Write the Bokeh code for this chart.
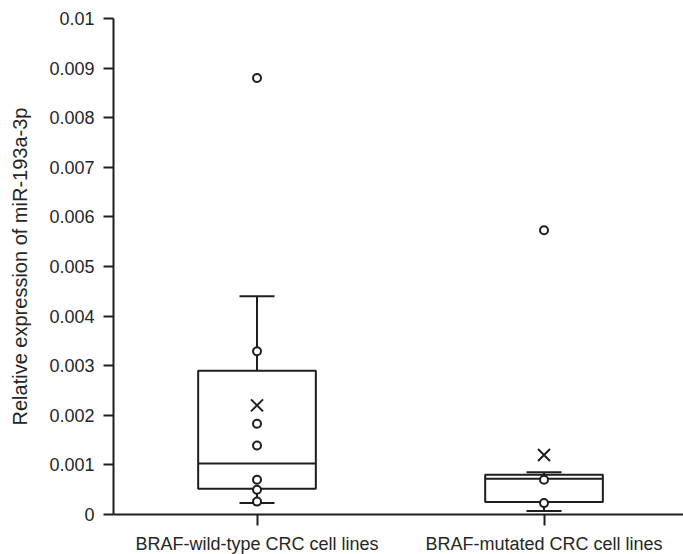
from bokeh.plotting import figure
from bokeh.models import FixedTicker, Range1d
from bokeh.embed import file_html
from bokeh.resources import INLINE

# ---- data ----
categories = ["BRAF-wild-type CRC cell lines", "BRAF-mutated CRC cell lines"]
cat_pos = [0.5, 1.5]
q1 = [0.00052, 0.00025]
median = [0.00103, 0.00072]
q3 = [0.00290, 0.00080]
whisker_low = [0.00023, 0.00007]
whisker_high = [0.00440, 0.00085]
means = [0.00220, 0.00120]
points_wt = [0.00880, 0.00329, 0.00183, 0.00139, 0.00070, 0.00050, 0.00026]
points_mut = [0.00573, 0.00070, 0.00023]
y_ticks = [0, 0.001, 0.002, 0.003, 0.004, 0.005, 0.006, 0.007, 0.008, 0.009, 0.01]
y_tick_labels = ["0", "0.001", "0.002", "0.003", "0.004", "0.005", "0.006",
                 "0.007", "0.008", "0.009", "0.01"]
y_title = "Relative expression of miR-193a-3p"

BOX_W = 0.41
CAP_W = 0.122
INK = "#1e1e1e"
TXT = "#262626"
FONT = "Liberation Sans"

p = figure(width=683, height=554, output_backend="svg", toolbar_location=None,
           x_range=Range1d(0, 1.986), y_range=Range1d(0, 0.01),
           min_border_left=113, min_border_right=0, min_border_top=18,
           min_border_bottom=40)
p.frame_width = 570
p.frame_height = 496
p.outline_line_color = None
p.xgrid.visible = False
p.ygrid.visible = False
p.background_fill_color = "white"
p.border_fill_color = "white"

# boxes
p.vbar(x=cat_pos, width=BOX_W, bottom=q1, top=q3, fill_color="white",
       line_color=INK, line_width=2)
# medians
p.segment(x0=[c - BOX_W / 2 for c in cat_pos], x1=[c + BOX_W / 2 for c in cat_pos],
          y0=median, y1=median, line_color=INK, line_width=2)
# whiskers
p.segment(x0=cat_pos, x1=cat_pos, y0=q3, y1=whisker_high, line_color=INK, line_width=2)
p.segment(x0=cat_pos, x1=cat_pos, y0=q1, y1=whisker_low, line_color=INK, line_width=2)
# caps
p.segment(x0=[c - CAP_W / 2 for c in cat_pos], x1=[c + CAP_W / 2 for c in cat_pos],
          y0=whisker_high, y1=whisker_high, line_color=INK, line_width=2)
p.segment(x0=[c - CAP_W / 2 for c in cat_pos], x1=[c + CAP_W / 2 for c in cat_pos],
          y0=whisker_low, y1=whisker_low, line_color=INK, line_width=2)
# points
p.scatter(x=[cat_pos[0]] * len(points_wt), y=points_wt, marker="circle", size=8,
          fill_color="white", line_color=INK, line_width=2)
p.scatter(x=[cat_pos[1]] * len(points_mut), y=points_mut, marker="circle", size=8,
          fill_color="white", line_color=INK, line_width=2)
# means
p.scatter(x=cat_pos, y=means, marker="x", size=17, line_color=INK, line_width=2)

# axes
p.xaxis.ticker = FixedTicker(ticks=cat_pos)
p.xaxis.major_label_overrides = {cat_pos[i]: categories[i] for i in range(2)}
p.xaxis.minor_tick_line_color = None
p.xaxis.major_tick_in = 0
p.xaxis.major_tick_out = 11
p.xaxis.major_label_standoff = 8
p.yaxis.ticker = FixedTicker(ticks=y_ticks)
p.yaxis.major_label_overrides = {y_ticks[i]: y_tick_labels[i] for i in range(len(y_ticks))}
p.yaxis.minor_tick_line_color = None
p.yaxis.major_tick_in = 0
p.yaxis.major_tick_out = 10
p.yaxis.major_label_standoff = 9
p.yaxis.axis_label = y_title
p.yaxis.axis_label_standoff = 15

for ax in (p.xaxis[0], p.yaxis[0]):
    ax.axis_line_color = INK
    ax.axis_line_width = 2
    ax.major_tick_line_color = INK
    ax.major_tick_line_width = 2
    ax.major_label_text_font = FONT
    ax.major_label_text_font_size = "18px"
    ax.major_label_text_color = TXT
    ax.axis_label_text_font = FONT
    ax.axis_label_text_font_size = "20px"
    ax.axis_label_text_font_style = "normal"
    ax.axis_label_text_color = TXT

open("out.html", "w").write(file_html(p, INLINE))
